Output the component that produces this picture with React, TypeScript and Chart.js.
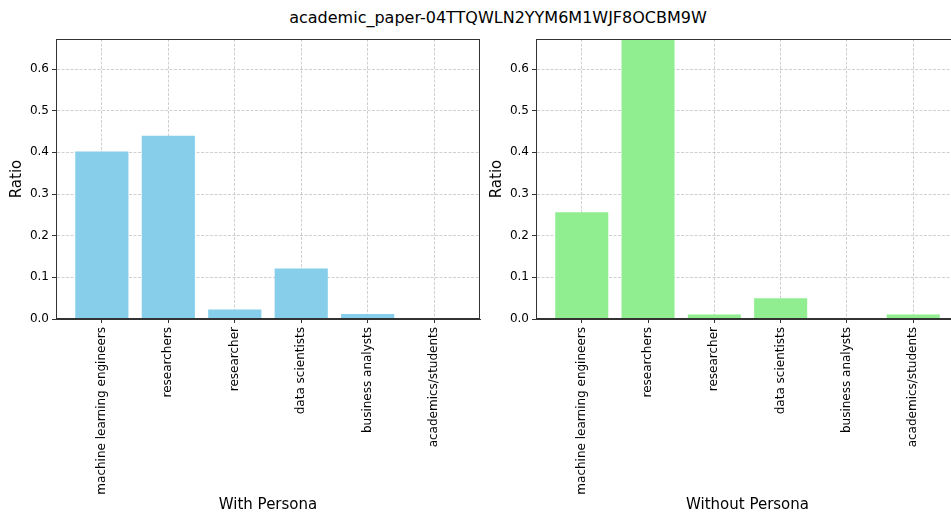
import React, { useEffect, useRef } from 'react';
import { Chart, registerables } from 'chart.js';

Chart.register(...registerables);

const TITLE = 'academic_paper-04TTQWLN2YYM6M1WJF8OCBM9W';
const CATEGORIES = [
  'machine learning engineers',
  'researchers',
  'researcher',
  'data scientists',
  'business analysts',
  'academics/students',
];
const WITH_PERSONA = [0.402, 0.44, 0.023, 0.121, 0.012, 0.0];
const WITHOUT_PERSONA = [0.256, 0.68, 0.011, 0.05, 0.0, 0.011];
const Y_TICKS = [0.0, 0.1, 0.2, 0.3, 0.4, 0.5, 0.6];
const Y_MAX = 0.672;
const X_MIN = -0.69;
const X_MAX = 5.69;

const FONT = "'DejaVu Sans', sans-serif";

const spinePlugin = {
  id: 'spines',
  afterDraw(chart: any) {
    const { ctx, chartArea } = chart;
    ctx.save();
    ctx.strokeStyle = '#333333';
    ctx.lineWidth = 1;
    const l = Math.round(chartArea.left) + 0.5;
    const t = Math.round(chartArea.top) + 0.5;
    const r = Math.round(chartArea.right) - 0.5;
    const b = Math.round(chartArea.bottom) - 0.5;
    ctx.strokeRect(l, t, r - l, b - t);
    ctx.restore();
  },
};

function Panel(props: { values: number[]; color: string; xTitle: string; left: number; padRight: number }) {
  const ref = useRef<HTMLCanvasElement | null>(null);
  useEffect(() => {
    if (!ref.current) return;
    const chart = new Chart(ref.current, {
      type: 'bar',
      data: {
        datasets: [
          {
            data: props.values.map((v, i) => ({ x: i, y: v })),
            backgroundColor: props.color,
            borderWidth: 0,
            barPercentage: 0.8,
            categoryPercentage: 1.0,
          },
        ],
      },
      options: {
        responsive: false,
        animation: false,
        events: [],
        layout: { padding: { top: 39, right: props.padRight, left: 0, bottom: 0 } },
        plugins: { legend: { display: false }, tooltip: { enabled: false }, title: { display: false } },
        scales: {
          x: {
            type: 'linear',
            min: X_MIN,
            max: X_MAX,
            offset: false,
            z: 1,
            afterFit: (s: any) => {
              s.height = 197;
            },
            afterBuildTicks: (s: any) => {
              s.ticks = CATEGORIES.map((_, i) => ({ value: i }));
            },
            ticks: {
              autoSkip: false,
              minRotation: 90,
              maxRotation: 90,
              padding: 4,
              color: '#000',
              font: { family: FONT, size: 12 },
              callback: (v: any) => CATEGORIES[v as number] ?? '',
            },
            grid: {
              offset: false,
              color: 'rgba(176,176,176,0.6)',
              lineWidth: 1,
              drawTicks: true,
              tickLength: 4,
              tickColor: '#333',
              tickBorderDash: [],
            },
            border: { display: true, color: '#333', width: 1, dash: [3, 1.5] },
            title: {
              display: true,
              text: props.xTitle,
              color: '#000',
              font: { family: FONT, size: 15 },
              padding: { top: 0, bottom: 2 },
            },
          },
          y: {
            type: 'linear',
            min: 0,
            max: Y_MAX,
            z: 1,
            afterFit: (s: any) => {
              s.width = 56;
            },
            afterBuildTicks: (s: any) => {
              s.ticks = Y_TICKS.map((v) => ({ value: v }));
            },
            ticks: {
              padding: 3,
              color: '#000',
              font: { family: FONT, size: 12 },
              callback: (v: any) => (v as number).toFixed(1),
            },
            grid: {
              offset: false,
              color: 'rgba(176,176,176,0.6)',
              lineWidth: 1,
              drawTicks: true,
              tickLength: 4,
              tickColor: '#333',
              tickBorderDash: [],
            },
            border: { display: true, color: '#333', width: 1, dash: [3, 1.5] },
            title: {
              display: true,
              text: 'Ratio',
              color: '#000',
              font: { family: FONT, size: 15 },
              padding: { top: 8, bottom: 0 },
            },
          },
        },
      },
      plugins: [spinePlugin],
    } as any);
    return () => chart.destroy();
  }, []);
  return (
    <canvas
      ref={ref}
      width={490}
      height={516}
      style={{ position: 'absolute', left: props.left, top: 0, width: 490, height: 516 }}
    />
  );
}

export default function App() {
  return (
    <div
      style={{
        position: 'fixed',
        left: 0,
        top: 0,
        width: 951,
        height: 516,
        overflow: 'hidden',
        background: '#fff',
      }}
    >
      <div
        style={{
          position: 'absolute',
          left: 0,
          top: 8,
          width: 996,
          textAlign: 'center',
          fontFamily: FONT,
          fontSize: 16,
          lineHeight: '19px',
          color: '#000',
          whiteSpace: 'nowrap',
        }}
      >
        {TITLE}
      </div>
      <Panel values={WITH_PERSONA} color="#87CEEB" xTitle="With Persona" left={0} padRight={10} />
      <Panel values={WITHOUT_PERSONA} color="#90EE90" xTitle="Without Persona" left={480} padRight={11} />
    </div>
  );
}
